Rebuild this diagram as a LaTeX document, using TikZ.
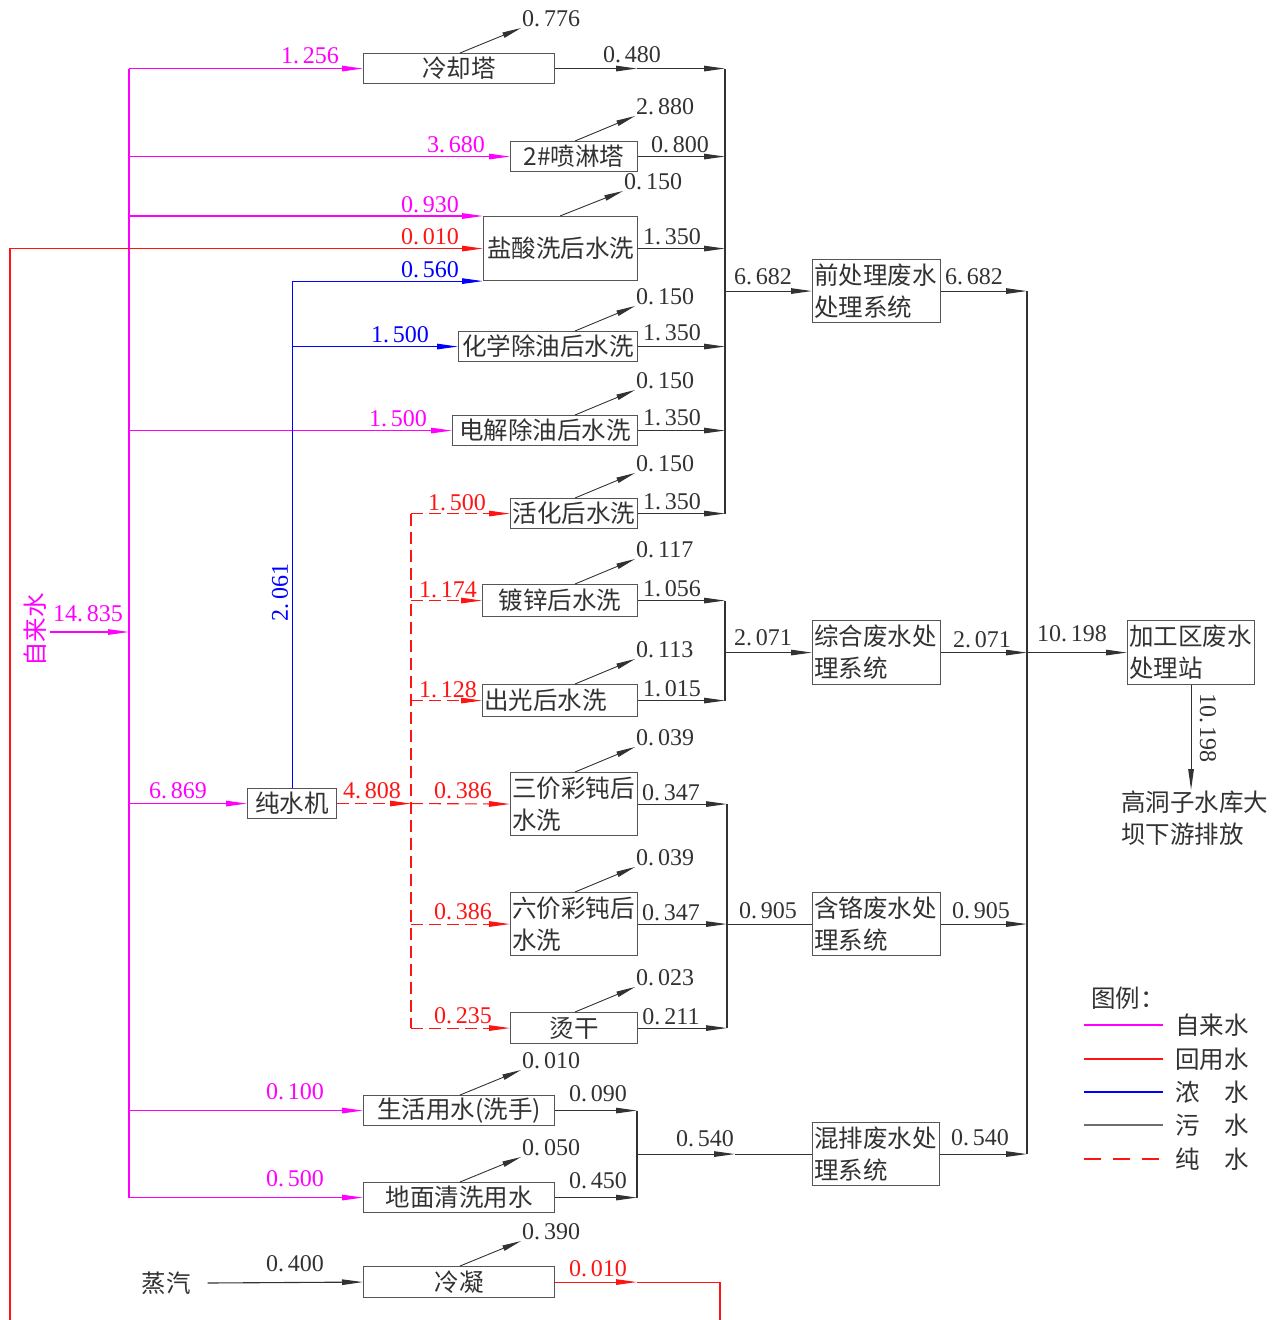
\documentclass[tikz,border=0pt]{standalone}
\usepackage{fontspec}
\setmainfont{Liberation Serif}
\newfontfamily\cjk{Noto Sans CJK SC}
\usetikzlibrary{arrows.meta,calc}
\definecolor{mag}{RGB}{255,0,255}
\definecolor{rd}{RGB}{255,20,20}
\definecolor{bl}{RGB}{0,0,255}
\definecolor{dk}{RGB}{50,50,50}
\definecolor{bxc}{RGB}{85,85,85}
\definecolor{lgg}{RGB}{110,110,110}
\newcommand\pdot{.\kern4pt}
\tikzset{
 bxs/.style={draw=bxc, line width=1.1pt, anchor=north west, inner sep=0pt, font=\cjk\fontsize{24.5}{32}\selectfont, text=dk},
 bxm/.style={bxs, inner sep=1.5pt, align=left},
 cj/.style={inner sep=1pt, font=\cjk\fontsize{24.5}{32}\selectfont, text=dk},
 nm/.style={inner sep=0.5pt, font=\fontsize{24}{26}\selectfont, text=dk},
 ev/.style={nm, anchor=south west, inner sep=1pt},
 tipa/.style={-{Triangle[length=21pt,width=5.5pt]}},
 fm/.style={draw=mag, line width=1.2pt},
 fr/.style={draw=rd, line width=1.1pt},
 frd/.style={draw=rd, line width=1.1pt, dash pattern=on 12pt off 6pt},
 fb/.style={draw=bl, line width=1.1pt},
 fd/.style={draw=dk, line width=1.1pt},
 fe/.style={draw=dk, line width=0.9pt, -{Triangle[length=19pt,width=5.5pt]}},
}
\begin{document}
\begin{tikzpicture}[x=1pt,y=-1pt]
\useasboundingbox (0,0) rectangle (1274,1320);

% ---------- boxes ----------
\node[bxs, minimum width=191pt, minimum height=30pt] (lq) at (363,53) {冷却塔};
\node[bxs, minimum width=127pt, minimum height=30pt] (pl) at (510,141) {2\#喷淋塔};
\node[bxs, minimum width=154pt, minimum height=64pt] (ys) at (483,216) {盐酸洗后水洗};
\node[bxs, minimum width=179pt, minimum height=30pt] (hx) at (458,331) {化学除油后水洗};
\node[bxs, minimum width=185pt, minimum height=30pt] (dj) at (452,415) {电解除油后水洗};
\node[bxs, minimum width=127pt, minimum height=30pt] (hh) at (510,498) {活化后水洗};
\node[bxm, text width=125pt, minimum height=63pt] (qc) at (812,259) {前处理废水\\处理系统};
\node[bxs, minimum width=155pt, minimum height=32pt] (dx) at (482,584) {镀锌后水洗};
\node[bxm, text width=152pt, minimum height=32pt] (cg) at (482,684) {出光后水洗};
\node[bxm, text width=125pt, minimum height=64pt] (zh) at (812,620) {综合废水处\\理系统};
\node[bxm, text width=124pt, minimum height=64pt] (jg) at (1127,620) {加工区废水\\处理站};
\node[bxs, minimum width=89pt, minimum height=30pt] (cs) at (247,788) {纯水机};
\node[bxm, text width=124pt, minimum height=63pt] (sj) at (510,772) {三价彩钝后\\水洗};
\node[bxm, text width=124pt, minimum height=63pt] (lj) at (510,892) {六价彩钝后\\水洗};
\node[bxs, minimum width=127pt, minimum height=31pt] (tg) at (510,1012) {烫干};
\node[bxm, text width=125pt, minimum height=63pt] (hg) at (812,892) {含铬废水处\\理系统};
\node[bxs, minimum width=191pt, minimum height=30pt] (sh) at (363,1095) {生活用水(洗手)};
\node[bxs, minimum width=191pt, minimum height=30pt] (dm) at (363,1182) {地面清洗用水};
\node[bxm, text width=124pt, minimum height=63pt] (hp) at (812,1122) {混排废水处\\理系统};
\node[bxs, minimum width=191pt, minimum height=31pt] (ln) at (363,1266) {冷凝};

% ---------- free texts ----------
\node[cj, text=mag, rotate=90] (zls) at (35,630) {自来水};
\node[cj] (zq) at (166,1283) {蒸汽};
\node[cj, anchor=north west, align=left] (gd) at (1120,790) {高洞子水库大\\坝下游排放};

% ---------- helper coordinates ----------
\coordinate (bm) at (129,0);
\coordinate (c637) at (637,0);
\coordinate (cA) at (725,0);
\coordinate (cC) at (727,0);
\coordinate (c735) at (735,0);
\coordinate (cB) at (1027,0);
\coordinate (busR) at (411,0);
\coordinate (xa) at (460,0);
\coordinate (xb) at (575,0);
\coordinate (xc) at (560,0);

% ---------- tap water (magenta) ----------
\draw[fm] (lq.west -| bm) -- (dm.west -| bm);
\draw[fm,tipa] (lq.west -| bm) -- (lq.west);
\draw[fm,tipa] (pl.west -| bm) -- (pl.west);
\draw[fm,tipa] (ys.north west -| bm) -- (ys.north west);
\draw[fm,tipa] (dj.west -| bm) -- (dj.west);
\draw[fm,tipa] (cs.west -| bm) -- (cs.west);
\draw[fm,tipa] (sh.west -| bm) -- (sh.west);
\draw[fm,tipa] (dm.west -| bm) -- (dm.west);
\coordinate (zs) at (50,632);
\draw[fm,tipa] (zs) -- (zs -| bm);

% ---------- concentrate (blue) ----------
\draw[fb,tipa] (cs.north) |- (ys.south west);
\draw[fb,tipa] (cs.north |- hx.west) -- (hx.west);

% ---------- reuse water (red) ----------
\coordinate (rl) at (10,1320);
\draw[fr,tipa] (rl) |- (ys.west);
\coordinate (rr) at (720,1320);
\draw[fr,tipa] (ln.east) -- (ln.east -| c637);
\draw[fr] (ln.east -| c637) -| (rr);

% ---------- pure water (red dashed) ----------
\draw[frd,tipa] (cs.east) -- (cs.east -| busR);
\draw[frd,tipa] (cs.east -| busR) -- (sj.west);
\draw[frd] (hh.west -| busR) -- (tg.west -| busR);
\draw[frd,tipa] (hh.west -| busR) -- (hh.west);
\draw[frd,tipa] (dx.west -| busR) -- (dx.west);
\draw[frd,tipa] (cg.west -| busR) -- (cg.west);
\draw[frd,tipa] (lj.west -| busR) -- (lj.west);
\draw[frd,tipa] (tg.west -| busR) -- (tg.west);

% ---------- waste water (dark) ----------
\draw[fd,tipa] (lq.east) -- (lq.east -| c637);
\draw[fd,tipa] (lq.east -| c637) -- (lq.east -| cA);
\draw[fd,tipa] (pl.east) -- (pl.east -| cA);
\draw[fd,tipa] (ys.east) -- (ys.east -| cA);
\draw[fd,tipa] (hx.east) -- (hx.east -| cA);
\draw[fd,tipa] (dj.east) -- (dj.east -| cA);
\draw[fd,tipa] (hh.east) -- (hh.east -| cA);
\draw[fd] (lq.east -| cA) -- (hh.east -| cA);
\draw[fd,tipa] (qc.west -| cA) -- (qc.west);
\draw[fd,tipa] (qc.east) -- (qc.east -| cB);
\draw[fd] (qc.east -| cB) -- (hp.east -| cB);

\draw[fd,tipa] (dx.east) -- (dx.east -| cA);
\draw[fd,tipa] (cg.east) -- (cg.east -| cA);
\draw[fd] (dx.east -| cA) -- (cg.east -| cA);
\draw[fd,tipa] (zh.west -| cA) -- (zh.west);
\draw[fd,tipa] (zh.east) -- (zh.east -| cB);
\draw[fd,tipa] (zh.east -| cB) -- (jg.west);
\draw[fd,tipa] (jg.south) -- (jg.south |- gd.north);

\draw[fd,tipa] (sj.east) -- (sj.east -| cC);
\draw[fd,tipa] (lj.east) -- (lj.east -| cC);
\draw[fd,tipa] (tg.east) -- (tg.east -| cC);
\draw[fd] (sj.east -| cC) -- (tg.east -| cC);
\draw[fd] (lj.east -| cC) -- (hg.west);
\draw[fd,tipa] (hg.east) -- (hg.east -| cB);

\draw[fd,tipa] (sh.east) -- (sh.east -| c637);
\draw[fd,tipa] (dm.east) -- (dm.east -| c637);
\draw[fd] (sh.east -| c637) -- (dm.east -| c637);
\draw[fd,tipa] (hp.west -| c637) -- (hp.west -| c735);
\draw[fd] (hp.west -| c735) -- (hp.west);
\draw[fd,tipa] (hp.east) -- (hp.east -| cB);
\draw[fd,tipa] ([xshift=16pt]zq.east) -- (ln.west);

% ---------- evaporation losses ----------
\node[ev] (e1) at (521,28) {0\pdot776};
\draw[fe] (lq.north -| xa) -- (e1.south west);
\node[ev] (e2) at (635,116) {2\pdot880};
\draw[fe] (pl.north -| xb) -- (e2.south west);
\node[ev] (e3) at (623,191) {0\pdot150};
\draw[fe] (ys.north -| xc) -- (e3.south west);
\node[ev] (e4) at (635,306) {0\pdot150};
\draw[fe] (hx.north -| xb) -- (e4.south west);
\node[ev] (e5) at (635,390) {0\pdot150};
\draw[fe] (dj.north -| xb) -- (e5.south west);
\node[ev] (e6) at (635,473) {0\pdot150};
\draw[fe] (hh.north -| xb) -- (e6.south west);
\node[ev] (e7) at (635,559) {0\pdot117};
\draw[fe] (dx.north -| xb) -- (e7.south west);
\node[ev] (e8) at (635,659) {0\pdot113};
\draw[fe] (cg.north -| xb) -- (e8.south west);
\node[ev] (e9) at (635,747) {0\pdot039};
\draw[fe] (sj.north -| xb) -- (e9.south west);
\node[ev] (e10) at (635,867) {0\pdot039};
\draw[fe] (lj.north -| xb) -- (e10.south west);
\node[ev] (e11) at (635,987) {0\pdot023};
\draw[fe] (tg.north -| xb) -- (e11.south west);
\node[ev] (e12) at (521,1070) {0\pdot010};
\draw[fe] (sh.north -| xa) -- (e12.south west);
\node[ev] (e13) at (521,1157) {0\pdot050};
\draw[fe] (dm.north -| xa) -- (e13.south west);
\node[ev] (e14) at (521,1241) {0\pdot390};
\draw[fe] (ln.north -| xa) -- (e14.south west);

% ---------- flow labels ----------
\begin{scope}[every node/.style={nm, text=mag}]
\node (m1) at (310,56) {1\pdot256};
\node (m2) at (456,145) {3\pdot680};
\node (m3) at (430,205) {0\pdot930};
\node (m4) at (398,419) {1\pdot500};
\node (m5) at (178,791) {6\pdot869};
\node (m6) at (295,1092) {0\pdot100};
\node (m7) at (295,1179) {0\pdot500};
\node (m8) at (88,614) {14\pdot835};
\end{scope}
\begin{scope}[every node/.style={nm, text=rd}]
\node (r1) at (430,237) {0\pdot010};
\node (r2) at (457,503) {1\pdot500};
\node (r3) at (448,590) {1\pdot174};
\node (r4) at (448,690) {1\pdot128};
\node (r5) at (372,791) {4\pdot808};
\node (r6) at (463,791) {0\pdot386};
\node (r7) at (463,912) {0\pdot386};
\node (r8) at (463,1016) {0\pdot235};
\node (r9) at (598,1269) {0\pdot010};
\end{scope}
\begin{scope}[every node/.style={nm, text=bl}]
\node (b1) at (430,270) {0\pdot560};
\node (b2) at (400,335) {1\pdot500};
\node[rotate=90] (b3) at (280,592) {2\pdot061};
\end{scope}
\begin{scope}[every node/.style={nm}]
\node (d1) at (632,55) {0\pdot480};
\node (d2) at (680,145) {0\pdot800};
\node (d3) at (672,237) {1\pdot350};
\node (d4) at (763,277) {6\pdot682};
\node (d5) at (974,277) {6\pdot682};
\node (d6) at (672,333) {1\pdot350};
\node (d7) at (672,418) {1\pdot350};
\node (d8) at (672,502) {1\pdot350};
\node (d9) at (672,589) {1\pdot056};
\node (d10) at (672,689) {1\pdot015};
\node (d11) at (763,638) {2\pdot071};
\node (d12) at (982,640) {2\pdot071};
\node (d13) at (1072,634) {10\pdot198};
\node[rotate=-90] (d14) at (1208,728) {10\pdot198};
\node (d15) at (671,793) {0\pdot347};
\node (d16) at (671,913) {0\pdot347};
\node (d17) at (671,1017) {0\pdot211};
\node (d18) at (768,911) {0\pdot905};
\node (d19) at (981,911) {0\pdot905};
\node (d20) at (598,1094) {0\pdot090};
\node (d21) at (598,1181) {0\pdot450};
\node (d22) at (705,1139) {0\pdot540};
\node (d23) at (980,1138) {0\pdot540};
\node (d24) at (295,1264) {0\pdot400};
\end{scope}

% ---------- legend ----------
\node[cj, anchor=west] (lgt) at (1090,998) {图例：};
\node[cj, anchor=west] (lg1) at (1174,1025) {自来水};
\node[cj, anchor=west] (lg2) at (1174,1059) {回用水};
\node[cj, anchor=west] (lg3) at (1174,1092) {浓　水};
\node[cj, anchor=west] (lg4) at (1174,1125) {污　水};
\node[cj, anchor=west] (lg5) at (1174,1159) {纯　水};
\coordinate (la1) at (1084,1025);
\coordinate (la2) at (1084,1059);
\coordinate (la3) at (1084,1092);
\coordinate (la4) at (1084,1125);
\coordinate (la5) at (1084,1159);
\draw[fm, line width=1.1pt] (la1) -- ([xshift=-11pt]lg1.west);
\draw[fr, line width=1.1pt] (la2) -- ([xshift=-11pt]lg2.west);
\draw[fb, line width=1.1pt] (la3) -- ([xshift=-11pt]lg3.west);
\draw[draw=lgg, line width=1.3pt] (la4) -- ([xshift=-11pt]lg4.west);
\draw[fr, line width=1.1pt, dash pattern=on 17pt off 12pt] (la5) -- ([xshift=-11pt]lg5.west);
\end{tikzpicture}
\end{document}
